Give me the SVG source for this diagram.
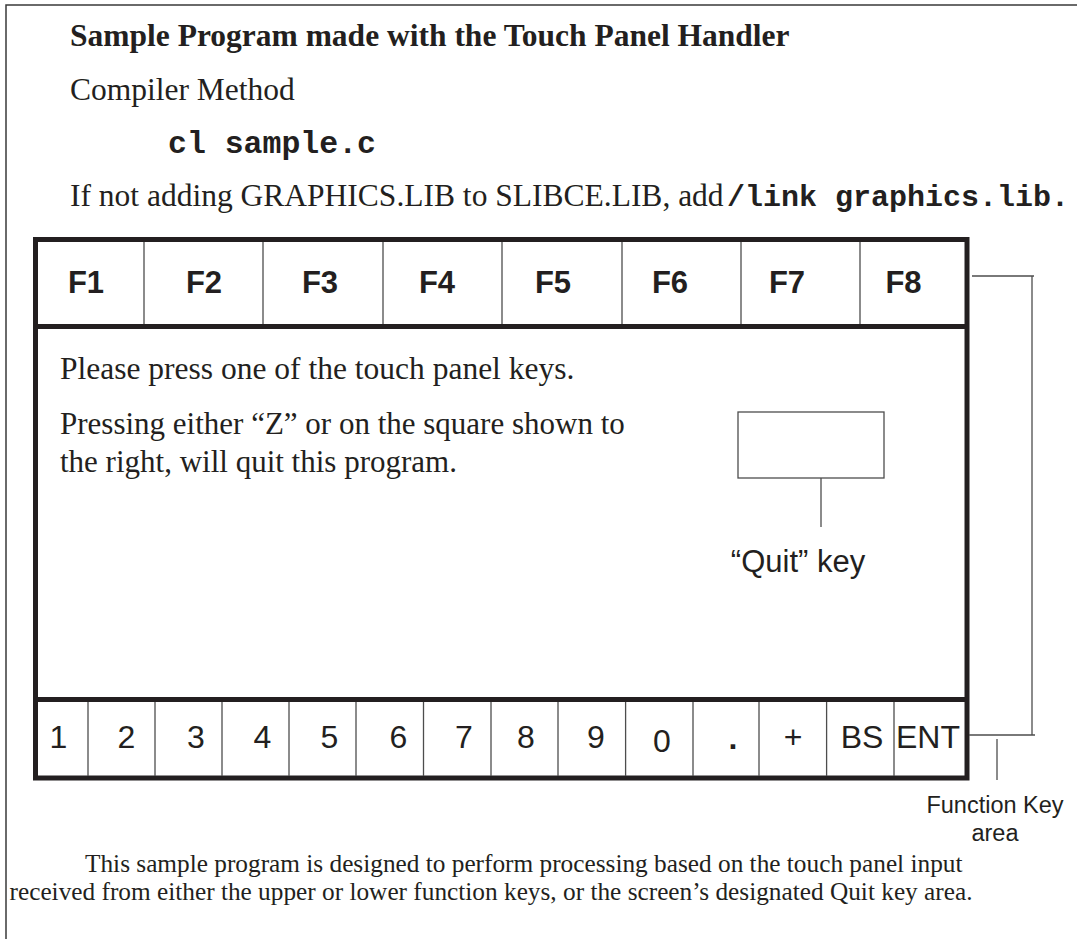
<svg xmlns="http://www.w3.org/2000/svg" width="1077" height="939" viewBox="0 0 1077 939">
<style>
.serif{font-family:"Liberation Serif","Times New Roman",serif;fill:#231f20}
.sans{font-family:"Liberation Sans",Arial,sans-serif;fill:#231f20}
.mono{font-family:"Liberation Mono","Courier New",monospace;font-weight:bold;fill:#231f20}
.body{font-size:31.5px}
.fk{font-size:31px;font-weight:bold;text-anchor:middle}
.nk{font-size:32px;text-anchor:middle}
.thick{stroke:#231f20;stroke-width:5;fill:none}
.thin{stroke:#4d4d4d;stroke-width:1.3;fill:none}
.frame{stroke:#3a3a3a;stroke-width:1.5;fill:none}
</style>
<rect width="1077" height="939" fill="#ffffff"/>
<g id="frame">
<polyline class="frame" points="1077,5 6,5 6,939"/>
</g>
<g id="header">
<text class="serif body" x="70" y="46" font-weight="bold">Sample Program made with the Touch Panel Handler</text>
<text class="serif body" x="70" y="100">Compiler Method</text>
<text class="mono" x="168" y="153" font-size="31.5">cl sample.c</text>
<text class="serif body" x="70" y="206">If not adding GRAPHICS.LIB to SLIBCE.LIB, add</text>
<text class="mono" x="727" y="206" font-size="30">/link graphics.lib.</text>
</g>
<g id="panel">
<rect class="thick" x="35.5" y="239.5" width="931.5" height="538.5"/>
<line class="thick" x1="35.5" y1="326.5" x2="967" y2="326.5"/>
<line class="thick" x1="35.5" y1="699.5" x2="967" y2="699.5"/>
</g>
<g id="function-keys">
<g class="thin">
<line x1="144" y1="242" x2="144" y2="324"/>
<line x1="263" y1="242" x2="263" y2="324"/>
<line x1="383" y1="242" x2="383" y2="324"/>
<line x1="502" y1="242" x2="502" y2="324"/>
<line x1="622" y1="242" x2="622" y2="324"/>
<line x1="741" y1="242" x2="741" y2="324"/>
<line x1="860" y1="242" x2="860" y2="324"/>
</g>
<text class="sans fk" x="86" y="293">F1</text>
<text class="sans fk" x="204" y="293">F2</text>
<text class="sans fk" x="320" y="293">F3</text>
<text class="sans fk" x="437" y="293">F4</text>
<text class="sans fk" x="553" y="293">F5</text>
<text class="sans fk" x="670" y="293">F6</text>
<text class="sans fk" x="787" y="293">F7</text>
<text class="sans fk" x="903.5" y="293">F8</text>
</g>
<g id="screen-text">
<text class="serif body" x="60" y="379">Please press one of the touch panel keys.</text>
<text class="serif" x="60" y="433.5" font-size="31">Pressing either “Z” or on the square shown to</text>
<text class="serif" x="60" y="471.5" font-size="31">the right, will quit this program.</text>
</g>
<g id="quit-key">
<rect class="thin" x="738" y="412" width="146" height="66"/>
<text class="sans" x="798" y="572" font-size="31" text-anchor="middle">“Quit” key</text>
</g>
<g id="number-keys">
<g class="thin">
<line x1="88" y1="702" x2="88" y2="776"/>
<line x1="155" y1="702" x2="155" y2="776"/>
<line x1="222" y1="702" x2="222" y2="776"/>
<line x1="289" y1="702" x2="289" y2="776"/>
<line x1="356" y1="702" x2="356" y2="776"/>
<line x1="423.5" y1="702" x2="423.5" y2="776"/>
<line x1="491" y1="702" x2="491" y2="776"/>
<line x1="558" y1="702" x2="558" y2="776"/>
<line x1="625.6" y1="702" x2="625.6" y2="776"/>
<line x1="693" y1="702" x2="693" y2="776"/>
<line x1="759" y1="702" x2="759" y2="776"/>
<line x1="826.6" y1="702" x2="826.6" y2="776"/>
<line x1="894" y1="702" x2="894" y2="776"/>
</g>
<text class="sans nk" x="58.5" y="748">1</text>
<text class="sans nk" x="126.5" y="748">2</text>
<text class="sans nk" x="196" y="748">3</text>
<text class="sans nk" x="262.5" y="748">4</text>
<text class="sans nk" x="329.5" y="748">5</text>
<text class="sans nk" x="398.5" y="748">6</text>
<text class="sans nk" x="464" y="748">7</text>
<text class="sans nk" x="526" y="748">8</text>
<text class="sans nk" x="596" y="748">9</text>
<text class="sans nk" x="662" y="752">0</text>
<text class="sans nk" x="733" y="748.5" font-size="42" font-weight="bold">.</text>
<text class="sans nk" x="793" y="748">+</text>
<text class="sans nk" x="862" y="748">BS</text>
<text class="sans" x="896" y="748" font-size="32" textLength="64" lengthAdjust="spacingAndGlyphs">ENT</text>
</g>
<g id="function-key-label">
<text class="sans" x="995" y="813" font-size="23.5" text-anchor="middle">Function Key</text>
<text class="sans" x="995" y="841" font-size="23.5" text-anchor="middle">area</text>
</g>
<g id="connectors" class="thin">
<line x1="821" y1="478" x2="821" y2="527"/>
<line x1="972" y1="276" x2="1034" y2="276"/>
<line x1="1032" y1="276" x2="1032" y2="735"/>
<line x1="969" y1="735" x2="1035" y2="735"/>
<line x1="997" y1="739" x2="997" y2="780"/>
</g>
<g id="footer">
<text class="serif" x="85" y="872" font-size="25.3">This sample program is designed to perform processing based on the touch panel input</text>
<text class="serif" x="9.5" y="900" font-size="25.3">received from either the upper or lower function keys, or the screen’s designated Quit key area.</text>
</g>
</svg>
